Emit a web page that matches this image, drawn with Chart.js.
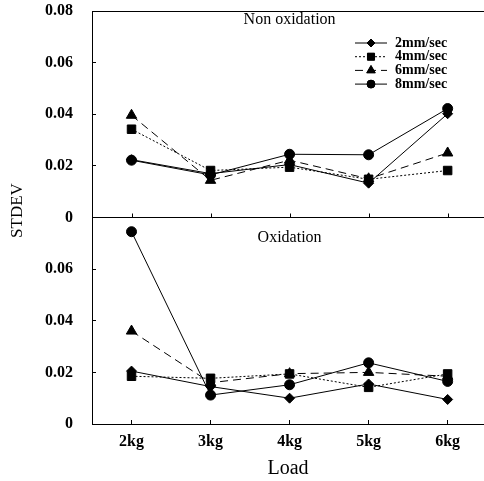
<!DOCTYPE html>
<html>
<head>
<meta charset="utf-8">
<script src="https://cdn.jsdelivr.net/npm/chart.js@4"></script>
<style>
	body{margin:0;background:#fff;}
	#grafico__main{display:block;}
</style>
</head>
<body>
<canvas id="grafico__main" width="484" height="481"></canvas>
<script>
// datos
const cargas = ['2kg', '3kg', '4kg', '5kg', '6kg'];
const series = ['2mm/sec', '4mm/sec', '6mm/sec', '8mm/sec'];
const ticks_y = [0, 0.02, 0.04, 0.06, 0.08];

// panel superior: Non oxidation
const non_2mm = [0.0224, 0.0170, 0.0205, 0.0133, 0.0402];
const non_4mm = [0.0342, 0.0182, 0.0195, 0.0148, 0.0182];
const non_6mm = [0.0396, 0.0144, 0.0222, 0.0150, 0.0250];
const non_8mm = [0.0222, 0.0165, 0.0245, 0.0243, 0.0422];

// panel inferior: Oxidation
const ox_2mm = [0.0205, 0.0145, 0.0100, 0.0155, 0.0095];
const ox_4mm = [0.0185, 0.0177, 0.0194, 0.0142, 0.0194];
const ox_6mm = [0.0360, 0.0160, 0.0195, 0.0200, 0.0185];
const ox_8mm = [0.0745, 0.0112, 0.0152, 0.0237, 0.0165];

const serif = "'Liberation Serif', 'Times New Roman', serif";

// estilo de cada serie (marcador y linea)
const estilos = [
	{pointStyle: 'rectRot', radius: 5, dash: []},
	{pointStyle: 'rect', radius: 6, dash: [2, 2]},
	{pointStyle: 'triangle', radius: 6, dash: [8, 5]},
	{pointStyle: 'circle', radius: 5, dash: []}
];

function armaSerie(nombre, valores, estilo, eje){
	return {
		label: nombre,
		data: valores.map((v, i) => ({x: i + 2, y: v})),
		yAxisID: eje,
		borderColor: '#000',
		backgroundColor: '#000',
		borderWidth: 1,
		borderDash: estilo.dash,
		pointStyle: estilo.pointStyle,
		pointRadius: estilo.radius,
		pointBorderWidth: 1,
		tension: 0
	};
}

const datasets = [
	armaSerie(series[0], non_2mm, estilos[0], 'yTop'),
	armaSerie(series[1], non_4mm, estilos[1], 'yTop'),
	armaSerie(series[2], non_6mm, estilos[2], 'yTop'),
	armaSerie(series[3], non_8mm, estilos[3], 'yTop'),
	armaSerie(series[0], ox_2mm, estilos[0], 'yBot'),
	armaSerie(series[1], ox_4mm, estilos[1], 'yBot'),
	armaSerie(series[2], ox_6mm, estilos[2], 'yBot'),
	armaSerie(series[3], ox_8mm, estilos[3], 'yBot')
];

function etiquetaY(v){
	if(Math.abs(v) < 1e-9) return '0';
	return v.toFixed(2);
}

// eje y comun a los dos paneles
function ejeY(ocultarMax){
	return {
		type: 'linear',
		position: 'left',
		stack: 'panel',
		stackWeight: 1,
		min: 0,
		max: 0.08,
		afterBuildTicks: s => { s.ticks = ticks_y.map(v => ({value: v})); },
		afterFit: s => { s.width = 92; s.paddingTop = 0; s.paddingBottom = 0; },
		border: {display: true, color: '#000', width: 1},
		grid: {
			drawOnChartArea: !ocultarMax,
			color: c => (c.tick && (c.tick.value === 0 || c.tick.value === 0.08)) ? '#000' : 'rgba(0,0,0,0)',
			tickColor: '#000',
			tickLength: -4,
			lineWidth: 1
		},
		ticks: {
			color: '#000',
			padding: 23,
			font: {family: serif, size: 16, weight: 'bold'},
			callback: v => (ocultarMax && v > 0.079) ? '' : etiquetaY(v)
		}
	};
}

// textos y leyenda dibujados dentro del area
const extras = {
	id: 'extras',
	afterDraw(chart){
		const ctx = chart.ctx;
		const x = chart.scales.x;
		const yTop = chart.scales.yTop;
		const yBot = chart.scales.yBot;
		const area = chart.chartArea;
		ctx.save();
		ctx.fillStyle = '#000';
		ctx.strokeStyle = '#000';

		// marcas del eje x en la base del panel superior
		ctx.lineWidth = 1;
		ctx.setLineDash([]);
		x.ticks.forEach(t => {
			const px = Math.round(x.getPixelForValue(t.value)) + 0.5;
			ctx.beginPath();
			ctx.moveTo(px, yTop.bottom);
			ctx.lineTo(px, yTop.bottom - 4);
			ctx.stroke();
		});

		// titulos de panel
		ctx.textAlign = 'center';
		ctx.textBaseline = 'middle';
		ctx.font = '16px ' + serif;
		ctx.fillText('Non oxidation', x.getPixelForValue(4), yTop.top + 9);
		ctx.fillText('Oxidation', x.getPixelForValue(4), yBot.top + 20);

		// titulo del eje y
		ctx.save();
		ctx.translate(18, yTop.bottom - 7);
		ctx.rotate(-Math.PI / 2);
		ctx.font = '17px ' + serif;
		ctx.fillText('STDEV', 0, 0);
		ctx.restore();

		// leyenda
		const lx = area.right - 129;
		const ly = yTop.top + 32;
		ctx.font = 'bold 14px ' + serif;
		ctx.textAlign = 'left';
		for(let i = 0; i < 4; i++){
			const ds = chart.data.datasets[i];
			const y = ly + i * 13.7;
			ctx.beginPath();
			ctx.setLineDash(ds.borderDash);
			ctx.lineWidth = 1;
			ctx.moveTo(lx, y);
			ctx.lineTo(lx + 32, y);
			ctx.stroke();
			ctx.setLineDash([]);
			Chart.helpers.drawPoint(ctx, {pointStyle: ds.pointStyle, radius: ds.pointRadius - 1, borderWidth: 1, rotation: 0}, lx + 16, y);
			ctx.fill();
			ctx.fillText(ds.label, lx + 40, y);
		}
		ctx.restore();
	}
};

let grafico = new Chart(document.querySelector('#grafico__main'), {
	type: 'line',
	data: {datasets: datasets},
	options: {
		responsive: false,
		animation: false,
		events: [],
		layout: {autoPadding: false, padding: {top: 11, right: 0, bottom: 0, left: 0}},
		plugins: {legend: {display: false}, tooltip: {enabled: false}},
		scales: {
			x: {
				type: 'linear',
				min: 1.5,
				max: 6.46,
				afterBuildTicks: s => { s.ticks = cargas.map((c, i) => ({value: i + 2})); },
				afterFit: s => { s.height = 57; s.paddingLeft = 0; s.paddingRight = 0; },
				border: {display: true, color: '#000', width: 1},
				grid: {drawOnChartArea: false, tickColor: '#000', tickLength: -4},
				ticks: {
					color: '#000',
					padding: 12,
					maxRotation: 0,
					font: {family: serif, size: 16, weight: 'bold'},
					callback: v => cargas[Math.round(v) - 2]
				},
				title: {
					display: true,
					text: 'Load',
					color: '#000',
					padding: {top: 0, bottom: 0},
					font: {family: serif, size: 20}
				}
			},
			yBot: ejeY(true),
			yTop: ejeY(false)
		}
	},
	plugins: [extras]
});
</script>
</body>
</html>
